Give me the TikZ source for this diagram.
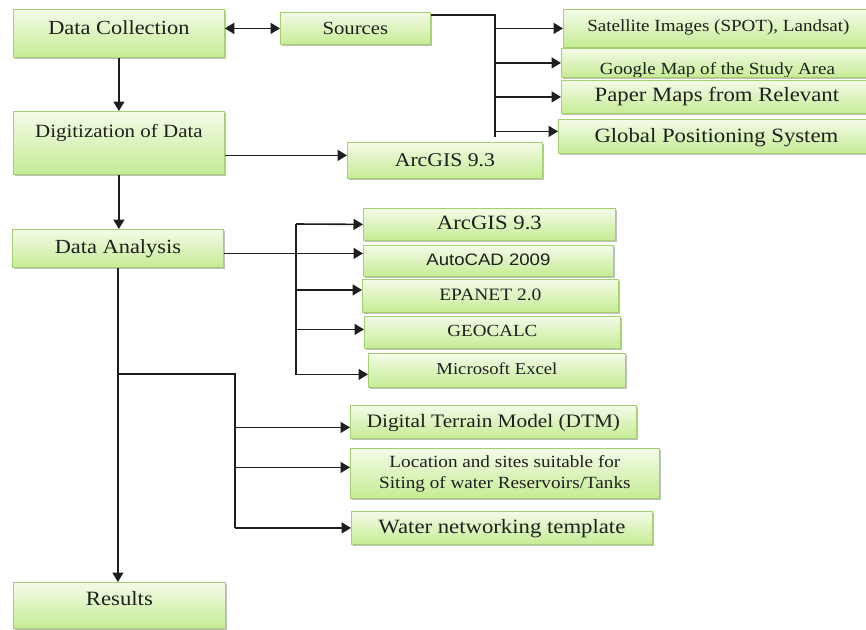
\documentclass[tikz,border=0pt]{standalone}
\usepackage{fontspec}
\setmainfont{Liberation Serif}[FakeStretch=1.12]
\newfontfamily\sansf{Liberation Sans}[FakeStretch=1.12]
\usetikzlibrary{arrows.meta,shadows,calc}
\definecolor{gtop}{HTML}{F4FBE8}
\definecolor{gbot}{HTML}{C6EC94}
\definecolor{bord}{HTML}{A4D070}
\definecolor{lnc}{HTML}{1E1E1E}
\newcommand\fsz[1]{\fontsize{#1}{21}\selectfont}
\newcommand\up[2]{\raisebox{#1}[0.7em][0.2em]{#2}}
\begin{document}
\begin{tikzpicture}[x=1pt,y=1pt,
  box/.style={draw=bord, line width=0.8pt, top color=gtop, bottom color=gbot,
    inner sep=0pt, anchor=north west, align=center, text=black!88,
    drop shadow={shadow xshift=1.6pt, shadow yshift=-2pt, fill=black!45, opacity=0.55}},
  ln/.style={draw=lnc, line width=1.6pt},
  tip/.tip={Triangle[length=9.5pt,width=11pt]},
  arr/.style={ln, -tip},
  dbl/.style={ln, tip-tip}]
\clip (0,0) rectangle (866,-629);
\useasboundingbox (0,0) rectangle (866,-629);
% left column
\node[box, minimum width=211pt, minimum height=48pt, font=\fsz{20}] (dc) at (13,-9) {\up{4pt}{Data Collection}};
\node[box, minimum width=211pt, minimum height=63pt, font=\fsz{18.7}] (dig) at (13,-111) {\up{10pt}{Digitization of Data}};
\node[box, minimum width=211pt, minimum height=38pt, font=\fsz{20}] (da) at (12,-229) {\up{0pt}{Data Analysis}};
\node[box, minimum width=212pt, minimum height=46pt, font=\fsz{20.3}] (res) at (13,-582) {\up{5pt}{Results}};
% sources
\node[box, minimum width=150pt, minimum height=32pt, font=\fsz{18.5}] (src) at (280,-12) {\up{-1pt}{Sources}};
\node[box, minimum width=195pt, minimum height=36pt, font=\fsz{19.4}] (arc1) at (347,-142) {\up{-1pt}{ArcGIS 9.3}};
\node[box, minimum width=310pt, minimum height=38pt, font=\fsz{17}] (sat) at (563,-9) {\up{1pt}{Satellite Images (SPOT), Landsat)}};
\node[box, minimum width=312pt, minimum height=29pt,
  path picture={\node[anchor=center, font=\fsz{17}, text=black!88, inner sep=0pt, draw=none, fill=none] (gootxt)
    at ([yshift=-3pt]path picture bounding box.center) {\up{-4pt}{Google Map of the Study Area}};}]
  (goo) at (561,-48) {};
\node[box, minimum width=311pt, minimum height=33pt, font=\fsz{20.3}] (pap) at (561,-80) {\up{0pt}{Paper Maps from Relevant}};
\node[box, minimum width=316pt, minimum height=34pt, font=\fsz{20.3}] (gps) at (558,-119) {\up{-1pt}{Global Positioning System}};
% analysis tools
\node[box, minimum width=252pt, minimum height=32pt, font=\fsz{20.3}] (arc2) at (363,-208) {\up{0pt}{ArcGIS 9.3}};
\node[box, minimum width=250pt, minimum height=31pt, font=\sansf\fsz{16.6}] (auto) at (363,-245) {\up{0pt}{AutoCAD 2009}};
\node[box, minimum width=256pt, minimum height=33pt, font=\fsz{17.4}] (epa) at (362,-279) {\up{0pt}{EPANET 2.0}};
\node[box, minimum width=256pt, minimum height=32pt, font=\fsz{17}] (geo) at (364,-316) {\up{0pt}{GEOCALC}};
\node[box, minimum width=257pt, minimum height=34pt, font=\fsz{16.7}] (exc) at (368,-353) {\up{0pt}{Microsoft Excel}};
% outputs
\node[box, minimum width=286pt, minimum height=33pt, font=\fsz{19}] (dtm) at (350,-405) {\up{-1pt}{Digital Terrain Model (DTM)}};
\node[box, minimum width=309pt, minimum height=50pt, font=\fsz{17.1}] (loc) at (350,-448) {Location and sites suitable for\\Siting of water Reservoirs/Tanks};
\node[box, minimum width=301pt, minimum height=33pt, font=\fsz{20.3}] (wat) at (351,-511) {\up{-1pt}{Water networking template}};
% connectors: top
\draw[dbl] (src.west -| dc.east) -- (src.west);
\draw[arr] (dc.south) -- (dc.south |- dig.north);
\draw[arr] ([yshift=-12.5pt]dig.east) -- ([yshift=-12.5pt]dig.east -| arc1.west);
\draw[arr] (dig.south) -- (dig.south |- da.north);
\coordinate (sj) at (495,-15);
\coordinate (sb) at (495,-137);
\draw[ln] ([yshift=-3pt]src.north east) -- (sj) -- (sb);
\draw[arr] (sj |- sat.west) -- (sat.west);
\draw[arr] (sj |- goo.west) -- (goo.west);
\draw[arr] (sj |- pap.west) -- (pap.west);
\draw[arr] ([yshift=5pt]gps.west -| sj) -- ([yshift=5pt]gps.west);
% connectors: analysis
\coordinate (dj) at (296,-224);
\coordinate (exA) at ([yshift=-4pt]exc.west);
\draw[arr] (dj) -- (arc2.west);
\draw[arr] (dj) -- (exA -| dj) -- (exA);
\draw[arr] ([yshift=-5pt]da.east) -- ([yshift=-5pt]da.east -| auto.west);
\draw[arr] ([yshift=6pt]epa.west -| dj) -- ([yshift=6pt]epa.west);
\draw[arr] ([yshift=3pt]geo.west -| dj) -- ([yshift=3pt]geo.west);
% connectors: results
\draw[arr] (da.south) -- (da.south |- res.north);
\coordinate (bj) at (235,-374);
\draw[ln] (bj -| da.south) -- (bj) -- (bj |- wat.west);
\draw[arr] ([yshift=-5.5pt]dtm.west -| bj) -- ([yshift=-5.5pt]dtm.west);
\draw[arr] ([yshift=6pt]loc.west -| bj) -- ([yshift=6pt]loc.west);
\draw[arr] (bj |- wat.west) -- (wat.west);
\end{tikzpicture}
\end{document}
